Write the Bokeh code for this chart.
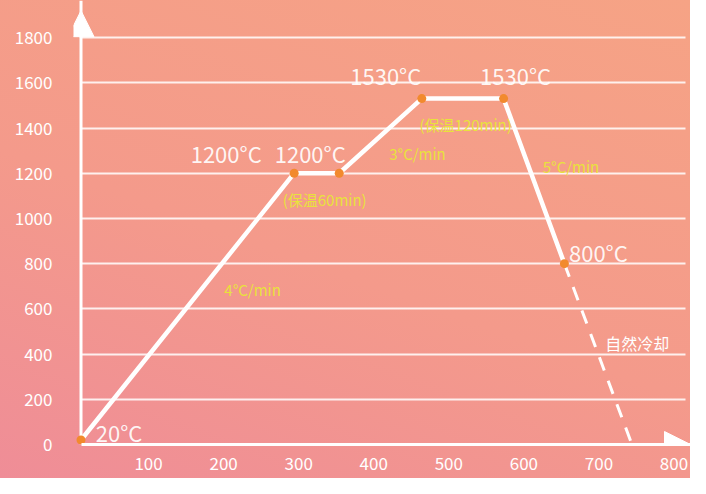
import numpy as np
from bokeh.plotting import figure
from bokeh.models import Range1d, FixedTicker, Arrow, NormalHead, ColumnDataSource, Span
from bokeh.core.properties import value
from bokeh.embed import file_html
from bokeh.resources import INLINE

# ---------------- data ----------------
time_min = [10, 294, 354, 464, 573, 654]
temp_c = [20, 1200, 1200, 1530, 1530, 800]
point_labels = ["20°C", "1200°C", "1200°C", "1530°C", "1530°C", "800°C"]
cool_time = [654, 744]
cool_temp = [800, 0]
segment_labels = ["4°C/min", "(保温60min)", "3°C/min", "(保温120min)", "5°C/min", "自然冷却"]
x_ticks = [100, 200, 300, 400, 500, 600, 700, 800]
y_ticks = [0, 200, 400, 600, 800, 1000, 1200, 1400, 1600, 1800]

# ---------------- layout / style ----------------
X_START, X_END = 0, 822
Y_START, Y_END = 0, 1964
AXIS_X = time_min[0]
FONT = "Noto Sans CJK SC"
WHITE = "#FFFFFF"
YELLOW = "#E8E23C"
ORANGE = "#F28A2E"

p = figure(width=690, height=478, x_range=Range1d(X_START, X_END),
           y_range=Range1d(Y_START, Y_END), output_backend="svg",
           toolbar_location=None, min_border_left=73, min_border_right=0,
           min_border_top=0, min_border_bottom=34)
p.background_fill_color = None
p.border_fill_color = None
p.outline_line_color = None
p.styles = {"background-image": "linear-gradient(200deg, #F6A385 0%, #F49A8B 55%, #EF8D97 100%)"}

# axes
p.xaxis.ticker = FixedTicker(ticks=x_ticks)
p.yaxis.ticker = FixedTicker(ticks=y_ticks)
p.xaxis.bounds = (AXIS_X, X_END)
p.yaxis.axis_line_color = None
p.xaxis.axis_line_color = WHITE
p.xaxis.axis_line_width = 3
for ax in (p.xaxis, p.yaxis):
    ax.major_tick_line_color = None
    ax.minor_tick_line_color = None
    ax.major_label_text_color = WHITE
    ax.major_label_text_font = FONT
    ax.major_label_text_font_size = "17px"
p.yaxis.major_label_standoff = 15
p.xaxis.major_label_standoff = 6

# vertical axis line through the start of the curve (under the points)
p.add_layout(Span(location=AXIS_X, dimension="height", line_color=WHITE,
                  line_width=3, level="underlay"))

p.xgrid.grid_line_color = None
p.ygrid.ticker = FixedTicker(ticks=y_ticks[1:])
p.ygrid.grid_line_color = WHITE
p.ygrid.grid_line_width = 2
p.ygrid.grid_line_alpha = 0.85
p.ygrid.cross_bounds = (AXIS_X, 815)

# axis arrows
p.add_layout(Arrow(end=NormalHead(size=26, fill_color=WHITE, line_color=WHITE, line_width=1),
                   x_start=AXIS_X, y_start=1800, x_end=AXIS_X, y_end=1919,
                   line_color=WHITE, line_width=3))
p.add_layout(Arrow(end=NormalHead(size=26, fill_color=WHITE, line_color=WHITE, line_width=1),
                   x_start=780, y_start=0, x_end=X_END, y_end=0,
                   line_color=WHITE, line_width=3))

# curve
p.line(time_min, temp_c, line_color=WHITE, line_width=4.5, line_join="round")
p.line(cool_time, cool_temp, line_color=WHITE, line_width=3, line_dash="14 11")
p.scatter(time_min, temp_c, size=9, fill_color=ORANGE, line_color=None)

# point labels
pt_src = ColumnDataSource(dict(
    x=time_min, y=temp_c, text=point_labels,
    dx=[38, -68, -29, -36, 12, 34],
    dy=[-8, -20, -20, -24, -24, -12],
))
p.text(x="x", y="y", text="text", x_offset="dx", y_offset="dy", source=pt_src,
       text_color=WHITE, text_font=value(FONT), text_font_size="22px",
       text_align="center", text_baseline="middle", text_alpha=0.92)

# segment labels
all_t = np.array(time_min + [cool_time[1]], dtype=float)
all_T = np.array(temp_c + [cool_temp[1]], dtype=float)
mid_t = (all_t[:-1] + all_t[1:]) / 2
mid_T = (all_T[:-1] + all_T[1:]) / 2
seg_src = ColumnDataSource(dict(
    x=mid_t, y=mid_T, text=segment_labels,
    dx=[65, 8, 37, 3, 37, 39],
    dy=[-17, 26, 18, 26, -15, -11],
    color=[YELLOW, YELLOW, YELLOW, YELLOW, YELLOW, WHITE],
    size=["15px", "15px", "15px", "15px", "15px", "16px"],
))
p.text(x="x", y="y", text="text", x_offset="dx", y_offset="dy", source=seg_src,
       text_color="color", text_font=value(FONT), text_font_size="size",
       text_align="center", text_baseline="middle")

open("out.html", "w").write(file_html(p, INLINE))
